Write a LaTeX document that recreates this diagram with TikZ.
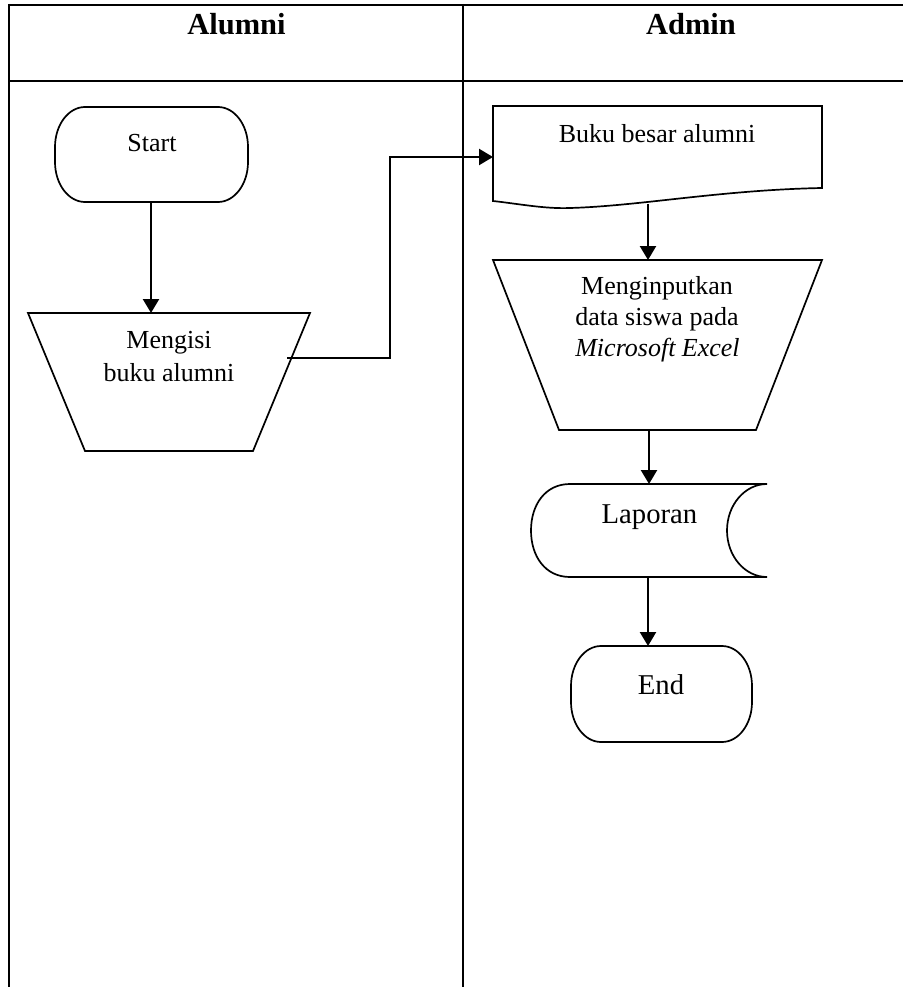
\documentclass[tikz,border=0pt]{standalone}
\usepackage{fontspec}
\setmainfont{Liberation Serif}
\usetikzlibrary{arrows.meta}
\begin{document}
\begin{tikzpicture}[x=1pt,y=-1pt,
  grid/.style={line width=2.3pt},
  shapeline/.style={line width=1.7pt, line join=miter},
  flow/.style={line width=2.4pt, -{Triangle[length=14pt,width=16pt]}},
  txt/.style={anchor=base, inner sep=0pt, font=\fontsize{26}{31}\selectfont},
  bigtxt/.style={anchor=base, inner sep=0pt, font=\fontsize{28.7}{34}\selectfont},
  head/.style={anchor=base, inner sep=0pt, font=\fontsize{30.5}{36}\selectfont\bfseries}]
\useasboundingbox (0,0) rectangle (903,987);
\fill[white] (0,0) rectangle (903,987);
% table
\draw[grid] (9,5) -- (903,5);
\draw[grid] (9,81) -- (903,81);
\draw[grid] (9,4) -- (9,987);
\draw[grid] (463,4) -- (463,987);
\node[head] (hAlumni) at (236.5,35) {Alumni};
\node[head] (hAdmin) at (691,35) {Admin};
% Start terminator
\draw[shapeline] (85,107) -- (218,107) arc[start angle=-90,end angle=0,x radius=30,y radius=40]
  -- (248,162) arc[start angle=0,end angle=90,x radius=30,y radius=40]
  -- (85,202) arc[start angle=90,end angle=180,x radius=30,y radius=40]
  -- (55,147) arc[start angle=180,end angle=270,x radius=30,y radius=40] -- cycle;
\node[txt] (start) at (152,152) {Start};
\coordinate (start-s) at (151,202);
% Mengisi manual operation
\draw[shapeline] (28,313) -- (310,313) -- (253,451) -- (85,451) -- cycle;
\node[txt] (mengisi1) at (169,348) {Mengisi};
\node[txt] (mengisi2) at (169,381) {buku alumni};
\coordinate (mengisi-n) at (151,313);
\coordinate (mengisi-e) at (287,358);
\coordinate (bend) at (390,358);
% Buku besar alumni document
\draw[shapeline] (493,106) -- (822,106) -- (822,188)
  .. controls (720,190) and (640,206) .. (570,208)
  .. controls (545,209) and (520,204) .. (493,201) -- cycle;
\node[txt] (buku) at (657,143) {Buku besar alumni};
\coordinate (buku-w) at (493,157);
\coordinate (buku-s) at (648,204);
% Menginputkan manual operation
\draw[shapeline] (493,260) -- (822,260) -- (756,430) -- (559,430) -- cycle;
\node[txt] (input1) at (657,294) {Menginputkan};
\node[txt] (input2) at (657,325) {data siswa pada};
\node[txt] (input3) at (657.5,356) {\itshape Microsoft Excel};
\coordinate (input-n) at (648,260);
\coordinate (input-s) at (649,430);
% Laporan stored data
\draw[shapeline] (767,484) -- (570,484)
  .. controls (545,484) and (531,505) .. (531,530.5)
  .. controls (531,556) and (545,577) .. (570,577)
  -- (767,577) arc[start angle=90,end angle=270,x radius=40,y radius=46.5];
\node[bigtxt] (laporan) at (649.5,523) {Laporan};
\coordinate (laporan-n) at (649,484);
\coordinate (laporan-s) at (648,577);
% End terminator
\draw[shapeline] (601,646) -- (722,646) arc[start angle=-90,end angle=0,x radius=30,y radius=40]
  -- (752,702) arc[start angle=0,end angle=90,x radius=30,y radius=40]
  -- (601,742) arc[start angle=90,end angle=180,x radius=30,y radius=40]
  -- (571,686) arc[start angle=180,end angle=270,x radius=30,y radius=40] -- cycle;
\node[bigtxt] (end) at (661,694) {End};
\coordinate (end-n) at (648,646);
% connectors
\draw[flow] (start-s) -- (mengisi-n);
\draw[flow] (mengisi-e) -- (bend) |- (buku-w);
\draw[flow] (buku-s) -- (input-n);
\draw[flow] (input-s) -- (laporan-n);
\draw[flow] (laporan-s) -- (end-n);
\end{tikzpicture}
\end{document}
